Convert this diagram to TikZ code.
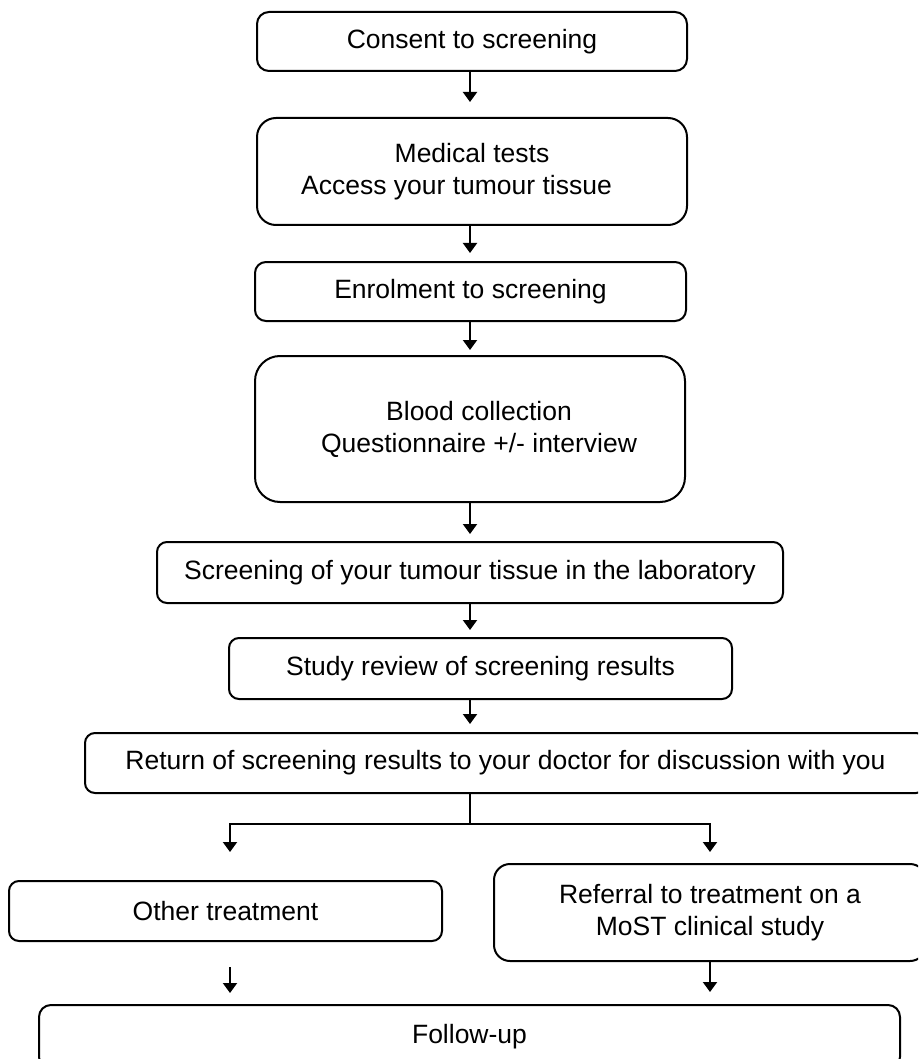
\documentclass[tikz,border=0pt]{standalone}
\usepackage{fontspec}
\setmainfont{Liberation Sans}
\usetikzlibrary{arrows.meta}
\begin{document}
\begin{tikzpicture}[x=1pt,y=-1pt,
  box/.style={draw, line width=2pt, rounded corners=#1, inner sep=0pt, align=center,
    font=\fontsize{26.5}{32}\selectfont},
  box/.default=10pt,
  conn/.style={line width=2pt},
  arr/.style={conn, -{Triangle[width=14pt,length=10pt]}}
]
\useasboundingbox (0,0) rectangle (918,1059);
\clip (0,0) rectangle (918,1059);

\node[box=12pt, minimum width=430pt, minimum height=59pt] (consent) at (472,41.5) {Consent to screening};
\node[box=19pt, minimum width=430pt, minimum height=107pt] (medical) at (472,171.5)
  {Medical tests\\Access your tumour tissue\hspace*{31pt}\mbox{}};
\node[box=11pt, minimum width=431pt, minimum height=59pt] (enrol) at (470.5,291.5) {Enrolment to screening};
\node[box=25pt, minimum width=430pt, minimum height=146pt] (blood) at (470,429)
  {\hspace*{18pt}Blood collection\\\hspace*{18pt}Questionnaire +/- interview};
\node[box=10pt, minimum width=626pt, minimum height=61pt] (screen) at (470,572.5)
  {Screening of your tumour tissue in the laboratory};
\node[box=10pt, minimum width=503pt, minimum height=61pt] (study) at (480.5,668.5)
  {Study review of screening results};
\node[box=10pt, minimum width=841pt, minimum height=60pt] (return) at (505.5,763)
  {Return of screening results to your doctor for discussion with you};
\node[box=10pt, minimum width=433pt, minimum height=60pt] (other) at (225.5,911) {Other treatment};
\node[box=16pt, minimum width=432pt, minimum height=97pt] (refer) at (710,912.5)
  {Referral to treatment on a\\MoST clinical study};
\node[box=12pt, minimum width=861pt, minimum height=64pt] (follow) at (469.5,1037) {Follow-up};

\coordinate (cx) at (470,0);
\coordinate (brL) at (230,824);
\coordinate (brR) at (710,824);

\draw[arr, shorten >=15pt] (consent.south -| cx) -- (medical.north -| cx);
\draw[arr, shorten >=8pt] (medical.south -| cx) -- (enrol.north -| cx);
\draw[arr, shorten >=5pt] (enrol.south -| cx) -- (blood.north -| cx);
\draw[arr, shorten >=7pt] (blood.south -| cx) -- (screen.north -| cx);
\draw[arr, shorten >=7pt] (screen.south -| cx) -- (study.north -| cx);
\draw[arr, shorten >=8pt] (study.south -| cx) -- (return.north -| cx);

\draw[conn] (return.south -| cx) -- (cx |- brL);
\draw[arr, shorten >=28pt] (cx |- brL) -- (brL) -- (brL |- other.north);
\draw[arr, shorten >=11pt] (cx |- brR) -- (brR) -- (brR |- refer.north);

\draw[arr, shorten <=25pt, shorten >=11pt] (other.south -| brL) -- (follow.north -| brL);
\draw[arr, shorten >=12pt] (refer.south -| brR) -- (follow.north -| brR);
\end{tikzpicture}
\end{document}
